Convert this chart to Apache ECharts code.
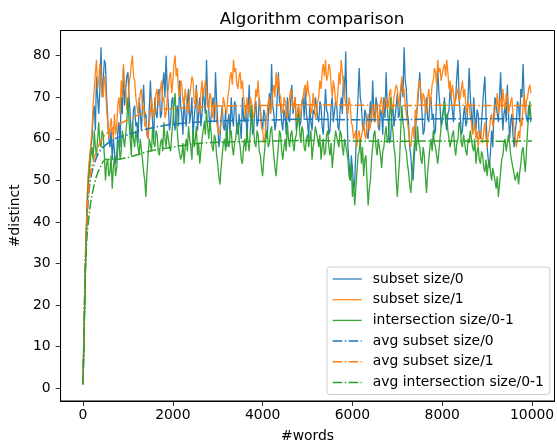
<!DOCTYPE html>
<html>
<head>
<meta charset="utf-8">
<script src="https://cdn.jsdelivr.net/npm/echarts@6/dist/echarts.min.js"></script>
<style>
  html, body { margin: 0; padding: 0; background: #fff; }
  #chart { width: 557px; height: 448px; }
</style>
</head>
<body>
<div id="chart"></div>
<script>
// sample positions (#words): start-up ramp, then every 25 words
const words = [0, 20, 40, 60, 80, 100, 125, 150, 175];
for (let w = 200; w < 10000; w += 25) words.push(w);

// subset size/0 (one row = 500 words)
const subset0 = [
  1, 12, 22, 32, 40, 47, 52, 55, 58,
  60, 66, 68, 62, 75, 70, 66, 72, 82, 70, 74, 79, 78, 70, 65, 60, 58, 62, 55, 60,
  60, 54, 56, 62, 64, 58, 70, 66, 77, 68, 72, 75, 76, 70, 66, 60, 62, 67, 68, 63,
  64, 59, 70, 66, 62, 68, 73, 65, 66, 61, 60, 67, 74, 68, 64, 60, 70, 66, 65, 71,
  72, 65, 66, 73, 76, 70, 80, 72, 68, 62, 64, 69, 70, 64, 62, 67, 68, 63, 74, 68,
  66, 61, 70, 65, 63, 69, 72, 64, 66, 70, 60, 65, 68, 73, 62, 66, 70, 63, 66, 72,
  72, 66, 79, 70, 67, 62, 62, 68, 70, 64, 76, 69, 64, 58, 60, 65, 68, 63, 62, 67,
  58, 64, 66, 61, 70, 65, 63, 69, 68, 62, 61, 66, 66, 60, 70, 65, 64, 68, 60, 66,
  73, 65, 66, 61, 62, 67, 69, 63, 64, 70, 70, 64, 62, 67, 66, 61, 60, 65, 71, 66,
  78, 68, 66, 62, 64, 70, 76, 69, 68, 64, 62, 67, 66, 61, 70, 65, 64, 69, 73, 66,
  66, 70, 62, 66, 68, 63, 64, 69, 70, 65, 72, 66, 64, 60, 68, 64, 62, 67, 66, 70,
  70, 65, 64, 69, 68, 63, 61, 66, 72, 67, 66, 61, 62, 68, 70, 64, 64, 69, 68, 63,
  62, 67, 70, 66, 75, 70, 81, 68, 58, 54, 50, 56, 53, 48, 49, 57, 64, 70, 77, 70,
  68, 63, 62, 67, 66, 61, 60, 65, 69, 64, 74, 67, 64, 70, 68, 63, 62, 67, 66, 61,
  70, 65, 76, 68, 64, 59, 60, 66, 68, 63, 63, 68, 71, 65, 66, 71, 74, 70, 82, 74,
  72, 66, 64, 58, 56, 52, 50, 55, 60, 66, 68, 72, 76, 70, 66, 61, 62, 67, 70, 65,
  64, 69, 70, 65, 66, 61, 62, 70, 77, 71, 68, 63, 63, 67, 70, 64, 62, 66, 67, 72,
  72, 67, 64, 69, 70, 75, 79, 70, 66, 61, 62, 66, 68, 63, 64, 70, 77, 70, 66, 62,
  70, 65, 62, 67, 66, 61, 60, 64, 68, 72, 75, 66, 58, 55, 53, 57, 62, 58, 66, 70,
  70, 66, 64, 70, 76, 68, 62, 66, 68, 64, 73, 66, 60, 64, 66, 61, 58, 62, 64, 69,
  68, 64, 72, 70, 78, 70, 70, 65, 64, 68, 66, 64
];

// subset size/1
const subset1 = [
  1, 12, 23, 33, 41, 48, 53, 56, 59,
  62, 68, 72, 76, 79, 72, 74, 78, 77, 71, 70, 75, 73, 67, 64, 60, 60, 65, 62, 60,
  66, 61, 63, 68, 70, 66, 74, 70, 78, 73, 72, 67, 68, 73, 75, 78, 80, 75, 74, 70,
  70, 66, 66, 71, 72, 67, 68, 63, 64, 61, 60, 64, 66, 70, 70, 65, 67, 71, 72, 68,
  68, 72, 74, 69, 70, 65, 66, 70, 72, 75, 76, 71, 74, 78, 80, 75, 77, 72, 70, 74,
  73, 69, 68, 72, 72, 67, 66, 70, 70, 75, 74, 69, 68, 72, 72, 67, 66, 71, 74, 70,
  70, 74, 72, 68, 67, 71, 70, 65, 66, 69, 68, 64, 64, 61, 62, 65, 66, 70, 70, 67,
  66, 70, 72, 75, 76, 73, 79, 76, 77, 73, 72, 75, 76, 72, 74, 70, 68, 65, 70, 67,
  66, 70, 69, 66, 65, 68, 72, 70, 74, 69, 66, 63, 62, 59, 60, 64, 66, 69, 70, 66,
  68, 71, 73, 70, 76, 72, 75, 71, 70, 67, 66, 70, 69, 66, 65, 68, 68, 72, 71, 67,
  67, 70, 64, 66, 68, 65, 66, 69, 70, 72, 73, 70, 74, 71, 70, 66, 67, 71, 68, 65,
  66, 69, 70, 74, 72, 76, 78, 75, 79, 74, 75, 78, 77, 73, 70, 74, 72, 69, 68, 71,
  76, 73, 79, 76, 74, 70, 70, 67, 66, 70, 68, 64, 63, 60, 60, 62, 58, 61, 62, 59,
  59, 62, 64, 61, 60, 64, 66, 62, 63, 67, 68, 65, 64, 68, 67, 63, 66, 69, 70, 66,
  66, 69, 70, 67, 68, 71, 72, 68, 67, 70, 70, 73, 72, 68, 68, 72, 75, 71, 72, 68,
  66, 64, 62, 59, 58, 61, 63, 60, 67, 64, 70, 73, 74, 71, 68, 71, 70, 67, 66, 70,
  72, 68, 70, 73, 74, 77, 76, 73, 79, 76, 77, 74, 74, 77, 78, 75, 79, 76, 72, 74,
  70, 73, 71, 68, 68, 71, 72, 69, 70, 72, 74, 70, 72, 68, 66, 69, 68, 65, 64, 61,
  62, 64, 60, 62, 58, 61, 62, 60, 59, 62, 64, 60, 58, 61, 62, 65, 66, 63, 64, 67,
  68, 71, 66, 69, 70, 67, 72, 69, 67, 71, 70, 66, 66, 69, 70, 66, 62, 60, 58, 60,
  62, 60, 65, 63, 68, 71, 66, 69, 70, 72, 73, 71
];

// intersection size/0-1
const inter01 = [
  1, 12, 22, 31, 39, 45, 50, 53, 56,
  58, 55, 62, 58, 56, 60, 64, 59, 58, 62, 61, 56, 50, 54, 55, 51, 52, 56, 48, 53,
  56, 51, 53, 58, 60, 55, 57, 62, 62, 58, 58, 64, 70, 64, 60, 56, 64, 60, 58, 62,
  62, 58, 56, 60, 60, 55, 52, 50, 46, 52, 56, 60, 60, 57, 63, 59, 58, 62, 61, 57,
  56, 59, 60, 57, 64, 60, 58, 62, 62, 58, 57, 61, 64, 68, 71, 65, 62, 58, 58, 55,
  56, 59, 54, 58, 60, 57, 63, 60, 58, 55, 62, 58, 60, 63, 56, 59, 54, 57, 60, 62,
  64, 61, 67, 63, 60, 64, 62, 58, 57, 61, 60, 56, 54, 51, 49, 53, 56, 59, 60, 57,
  63, 59, 58, 61, 62, 58, 56, 59, 60, 63, 64, 60, 58, 55, 54, 58, 60, 57, 62, 59,
  57, 62, 68, 64, 62, 59, 58, 62, 61, 57, 56, 53, 51, 55, 58, 61, 62, 58, 59, 62,
  63, 59, 56, 53, 51, 55, 58, 62, 61, 57, 55, 58, 60, 57, 64, 60, 58, 61, 62, 59,
  57, 60, 61, 64, 66, 62, 59, 63, 62, 58, 57, 60, 61, 58, 58, 62, 55, 58, 60, 63,
  63, 60, 58, 61, 55, 58, 60, 56, 57, 61, 62, 58, 56, 59, 53, 56, 59, 62, 62, 59,
  58, 62, 61, 58, 56, 60, 60, 57, 55, 51, 50, 54, 46, 50, 44, 48, 52, 56, 57, 60,
  54, 58, 51, 55, 56, 50, 44, 48, 50, 55, 58, 61, 62, 58, 56, 60, 60, 56, 53, 57,
  58, 61, 63, 59, 60, 65, 70, 64, 62, 58, 56, 50, 46, 51, 55, 62, 68, 64, 62, 58,
  57, 54, 52, 49, 47, 51, 54, 58, 60, 57, 63, 59, 58, 55, 54, 58, 56, 51, 47, 52,
  55, 58, 60, 57, 62, 59, 58, 56, 54, 57, 60, 63, 64, 67, 69, 65, 66, 62, 62, 58,
  58, 61, 62, 58, 56, 59, 60, 64, 63, 59, 58, 61, 61, 57, 56, 60, 59, 62, 62, 58,
  57, 60, 54, 57, 58, 55, 54, 57, 56, 53, 52, 55, 51, 54, 55, 52, 50, 53, 53, 50,
  48, 51, 46, 49, 52, 55, 56, 59, 60, 57, 57, 61, 59, 56, 56, 53, 53, 50, 50, 52,
  49, 52, 54, 57, 58, 55, 52, 57, 62, 66, 69, 65
];

// running averages
const avgWords = [0, 25, 50, 75, 100, 150, 200, 300, 400, 500, 700, 1000, 1300, 1600, 2000, 2500, 3000, 4000, 5000, 6000, 7000, 8000, 9000, 9999];
const avgSubset0 = [1, 15, 29, 38, 43, 49, 52, 55.5, 57.5, 58.5, 60, 61, 62, 62.8, 63.5, 64, 64.3, 64.5, 64.7, 64.6, 64.6, 64.8, 64.8, 64.8];
const avgSubset1 = [1, 16, 30, 39, 44, 50, 53.5, 57, 59.5, 61, 62.8, 64.6, 66, 66.8, 67.3, 67.6, 67.9, 68, 68.2, 68.1, 68, 68.1, 68, 68];
const avgInter01 = [1, 14, 27, 34, 38, 43, 46.5, 51, 53.5, 55, 55, 55.5, 56.5, 57.3, 58, 58.8, 59.2, 59.4, 59.6, 59.5, 59.4, 59.5, 59.4, 59.5];

const xTicks = [0, 2000, 4000, 6000, 8000, 10000];
const yTicks = [0, 10, 20, 30, 40, 50, 60, 70, 80];

const FONT = "DejaVu Sans";
const BLUE = "#1f77b4", ORANGE = "#ff7f0e", GREEN = "#2ca02c";
const DASHDOT = [9.6, 2.4, 1.5, 2.4];

function pairs(xs, ys) {
  return xs.map((x, i) => [x, ys[i]]);
}

function rawLine(name, color, ys) {
  return {
    name: name,
    type: "line",
    data: pairs(words, ys),
    symbol: "none",
    lineStyle: { color: color, width: 1.3, opacity: 0.95 },
    itemStyle: { color: color },
    emphasis: { disabled: true }
  };
}

function avgLine(name, color, ys) {
  return {
    name: name,
    type: "line",
    data: pairs(avgWords, ys),
    symbol: "none",
    smooth: 0.3,
    lineStyle: { color: color, width: 1.5, type: DASHDOT },
    itemStyle: { color: color },
    emphasis: { disabled: true }
  };
}

const axisFont = { fontFamily: FONT, fontSize: 13.9, color: "#000" };

const chart = echarts.init(document.getElementById("chart"));
chart.setOption({
  animation: false,
  backgroundColor: "#fff",
  title: {
    text: "Algorithm comparison",
    left: 307,
    textAlign: "center",
    top: 6,
    textStyle: { fontFamily: FONT, fontSize: 16.7, fontWeight: "normal", color: "#000" }
  },
  grid: {
    left: 57.5, right: 1, top: 30.5, bottom: 46,
    show: true, borderColor: "#000", borderWidth: 1
  },
  legend: {
    orient: "vertical",
    left: 327,
    top: 267,
    padding: [5, 6, 5, 5],
    itemWidth: 29,
    itemHeight: 14,
    itemGap: 6.7,
    itemStyle: { opacity: 0 },
    lineStyle: { width: "inherit" },
    backgroundColor: "rgba(255,255,255,0.8)",
    borderColor: "#cccccc",
    borderWidth: 1,
    borderRadius: 3,
    textStyle: { fontFamily: FONT, fontSize: 13.9, color: "#000", padding: [0, 0, 0, 6] },
    data: ["subset size/0", "subset size/1", "intersection size/0-1",
           "avg subset size/0", "avg subset size/1", "avg intersection size/0-1"]
  },
  xAxis: {
    type: "value",
    min: -500,
    max: 10500,
    name: "#words",
    nameLocation: "middle",
    nameGap: 28,
    nameTextStyle: axisFont,
    axisLine: { show: true, onZero: false, lineStyle: { color: "#000", width: 1 } },
    axisTick: { show: true, length: 4.9, lineStyle: { color: "#000", width: 0.8 }, customValues: xTicks },
    axisLabel: Object.assign({ customValues: xTicks, margin: 7, formatter: v => String(v) }, axisFont),
    splitLine: { show: false }
  },
  yAxis: {
    type: "value",
    min: -3.05,
    max: 86.05,
    name: "#distinct",
    nameLocation: "middle",
    nameGap: 36,
    nameTextStyle: axisFont,
    axisLine: { show: true, onZero: false, lineStyle: { color: "#000", width: 1 } },
    axisTick: { show: true, length: 4.9, lineStyle: { color: "#000", width: 0.8 }, customValues: yTicks },
    axisLabel: Object.assign({ customValues: yTicks, margin: 10, formatter: v => String(v) }, axisFont),
    splitLine: { show: false }
  },
  series: [
    rawLine("subset size/0", BLUE, subset0),
    rawLine("subset size/1", ORANGE, subset1),
    rawLine("intersection size/0-1", GREEN, inter01),
    avgLine("avg subset size/0", BLUE, avgSubset0),
    avgLine("avg subset size/1", ORANGE, avgSubset1),
    avgLine("avg intersection size/0-1", GREEN, avgInter01)
  ]
});
</script>
</body>
</html>
